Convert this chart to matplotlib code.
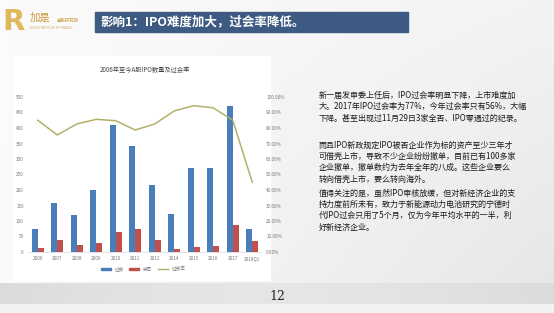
import numpy as np
import matplotlib.pyplot as plt
from matplotlib.patches import Rectangle
from matplotlib.lines import Line2D

plt.rcParams['font.family'] = ['Noto Sans CJK SC', 'DejaVu Sans']

years = ["2006", "2007", "2008", "2009", "2010", "2011", "2012",
         "2014", "2015", "2016", "2017", "2018Q1"]
passed = [74, 158, 119, 199, 409, 341, 217, 123, 271, 270, 472, 73]
rejected = [12, 40, 22, 29, 65, 74, 39, 11, 16, 20, 88, 35]
pass_rate = [85.0, 75.5, 82.6, 85.6, 84.7, 78.7, 82.6, 91.0, 94.4, 93.0, 85.0, 45.0]

W, H = 554, 313
fig = plt.figure(figsize=(W / 100, H / 100), dpi=100)

# slide background: light gradient, grey strip at the bottom
bg = fig.add_axes([0, 0, 1, 1])
bg.set_xlim(0, W)
bg.set_ylim(H, 0)
bg.axis("off")
gx = np.linspace(0, 1, 300)
gy = np.linspace(0, 1, 170)
shade = 0.985 - 0.08 * gx[None, :] * (0.4 + 0.6 * gy[:, None])
rgb = np.dstack([shade, shade, shade])
bg.imshow(rgb, extent=[0, W, 283, 0], aspect="auto")
strip = 0.86 + 0.04 * np.sin(np.pi * gx)[None, :] * np.ones((20, 1))
bg.imshow(np.dstack([strip] * 3), extent=[0, W, 304, 283], aspect="auto")
bg.add_patch(Rectangle((0, 304), W, 9, color="#f2f2f2"))
bg.add_patch(Rectangle((13, 56), 257, 224, color="white"))

# logo + header bar
bg.text(14, 22, "R", fontsize=21, color="#e0b85c", fontweight="bold",
        family="DejaVu Sans", va="center", ha="center")
bg.text(30, 18, "加是", fontsize=7.5, color="#c99a3c", va="center",
        family=["Noto Sans CJK SC"])
bg.text(57, 20, "金融研究院", fontsize=3.2, color="#c99a3c", va="center")
bg.text(30, 28, "RUI SHI INSTITUTE OF FINANCE", fontsize=2, color="#c9a860",
        va="center", family="DejaVu Sans")
bg.add_patch(Rectangle((95, 12), 313, 20, color="#3d5a82"))
bg.text(100, 22, "影响1：IPO难度加大，过会率降低。", fontsize=9, color="white",
        va="center", fontweight="bold")

# right text
paras = [
    ["新一届发审委上任后，IPO过会率明显下降，上市难度加",
     "大。2017年IPO过会率为77%，今年过会率只有56%，大幅",
     "下降。甚至出现过11月29日3家全否、IPO零通过的纪录。"],
    ["而且IPO新政规定IPO被否企业作为标的资产至少三年才",
     "可借壳上市，导致不少企业纷纷撤单，目前已有100多家",
     "企业撤单，撤单数约为去年全年的八成。这些企业要么",
     "转向借壳上市，要么转向海外。"],
    ["值得关注的是，虽然IPO审核放缓，但对新经济企业的支",
     "持力度前所未有，致力于新能源动力电池研究的宁德时",
     "代IPO过会只用了5个月，仅为今年平均水平的一半，利",
     "好新经济企业。"],
]
starts = [95, 145, 193]
for y0, lines in zip(starts, paras):
    for i, ln in enumerate(lines):
        bg.text(319, y0 + i * 11.4, ln, fontsize=5.8, color="#1a1a1a", va="center")

bg.text(277, 296, "12", fontsize=9, color="#222222", ha="center", va="center",
        family="DejaVu Serif")

# chart
ax = fig.add_axes([28 / W, 1 - 252 / H, 234 / W, 155 / H])
x = np.arange(len(years))
bw = 0.3
ax.bar(x - bw / 2, passed, bw, color="#4a7ebb", label="过会")
ax.bar(x + bw / 2, rejected, bw, color="#c0504d", label="被否")
ax.set_ylim(0, 500)
ax.set_yticks(range(0, 501, 50))
ax.set_xlim(-0.5, len(years) - 0.5)
ax.set_xticks(x)
ax.set_xticklabels(years)
ax.tick_params(labelsize=3.3, length=0, colors="#777777", pad=3)
for s in ax.spines.values():
    s.set_visible(False)
ax.spines["bottom"].set_visible(True)
ax.spines["bottom"].set_color("#d9d9d9")
ax.spines["bottom"].set_linewidth(0.5)

ax2 = ax.twinx()
ax2.plot(x, pass_rate, color="#b2b06a", lw=1.1, label="过会率")
ax2.set_ylim(0, 100)
ax2.set_yticks(range(0, 101, 10))
ax2.set_yticklabels([f"{v}.00%" for v in range(0, 101, 10)])
ax2.tick_params(labelsize=3.3, length=0, colors="#777777", pad=3)
for s in ax2.spines.values():
    s.set_visible(False)

ax.set_title("2006年至今A股IPO数量及过会率", fontsize=4.5, color="#444444",
             pad=18, family=["Noto Sans CJK SC"])

handles = [Rectangle((0, 0), 1, 1, color="#4a7ebb"),
           Rectangle((0, 0), 1, 1, color="#c0504d"),
           Line2D([], [], color="#b2b06a", lw=1)]
fig.legend(handles, ["过会", "被否", "过会率"], loc="center",
           bbox_to_anchor=(143 / W, 1 - 269 / H), ncol=3, fontsize=3.3,
           frameon=False, handlelength=2.2, handleheight=0.5, columnspacing=1.2,
           labelcolor="#777777")

fig.savefig("out.png", dpi=100)
